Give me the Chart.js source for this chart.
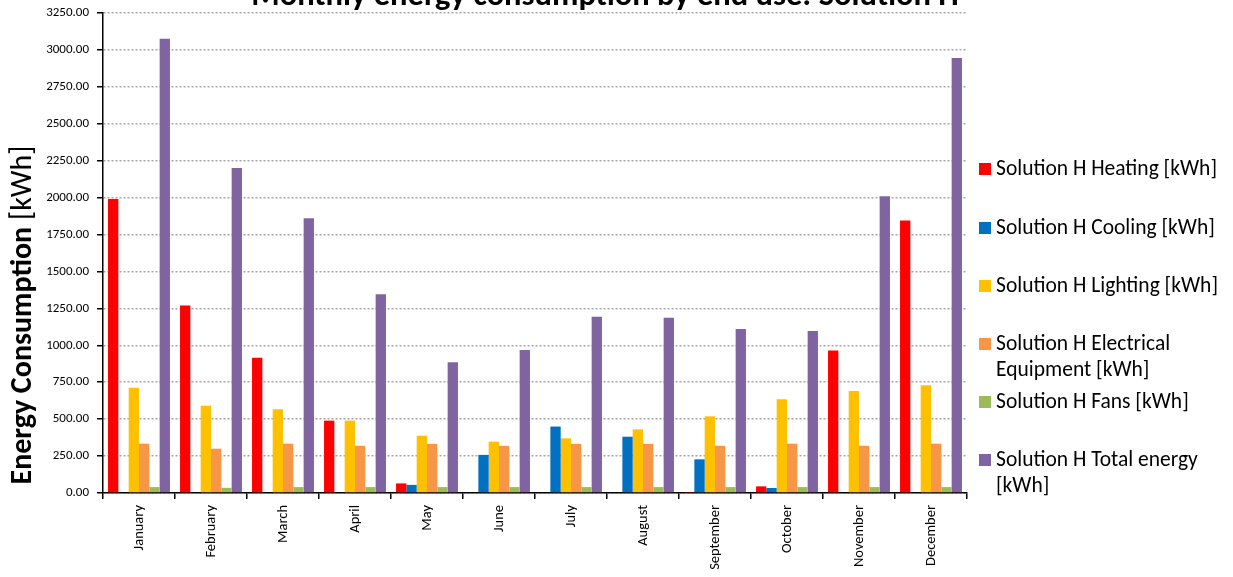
<!DOCTYPE html>
<html>
<head>
<meta charset="utf-8">
<title>Monthly energy consumption by end use: Solution H</title>
<script src="https://cdn.jsdelivr.net/npm/chart.js@4.4.1/dist/chart.umd.min.js"></script>
<style>
    html, body { margin: 0; padding: 0; background: #fff; }
    #wrap { width: 1233px; height: 577px; position: relative; }
</style>
</head>
<body>
<div id="wrap"><canvas id="energy-chart" width="1233" height="577"></canvas></div>
<script>
// Months on the x axis
const months = ['January', 'February', 'March', 'April', 'May', 'June',
    'July', 'August', 'September', 'October', 'November', 'December'];

// Monthly values per end use, kWh
const heating    = [1990, 1270, 915, 490, 65, 0, 0, 0, 3, 45, 965, 1845];
const cooling    = [0, 0, 0, 5, 55, 258, 450, 381, 228, 34, 0, 0];
const lighting   = [712, 590, 567, 490, 388, 348, 370, 431, 519, 634, 690, 730];
const electrical = [334, 300, 334, 320, 333, 320, 333, 333, 320, 334, 320, 334];
const fans       = [40, 35, 40, 40, 40, 40, 40, 40, 40, 40, 40, 40];
const total      = [3075, 2200, 1860, 1345, 885, 968, 1194, 1187, 1110, 1097, 2010, 2945];

// Y axis range
const yMin = 0;
const yMax = 3250;
const yStep = 250;

const seriesNames = [
    'Solution H Heating [kWh]',
    'Solution H Cooling [kWh]',
    'Solution H Lighting [kWh]',
    'Solution H Electrical Equipment [kWh]',
    'Solution H Fans [kWh]',
    'Solution H Total energy [kWh]'
];
const seriesColors = ['#ff0000', '#0070c0', '#ffc000', '#f79646', '#9bbb59', '#8064a2'];
const seriesValues = [heating, cooling, lighting, electrical, fans, total];

// legend text as it wraps in the picture
const legendLines = [
    ['Solution H Heating [kWh]'],
    ['Solution H Cooling [kWh]'],
    ['Solution H Lighting [kWh]'],
    ['Solution H Electrical', 'Equipment [kWh]'],
    ['Solution H Fans [kWh]'],
    ['Solution H Total energy', '[kWh]']
];

const FONT = "Carlito, Calibri, Lato, 'Open Sans', sans-serif";

// Title, y axis title and legend drawn by hand
const decorPlugin = {
    id: 'decor',
    afterDraw: function(chart) {
        const ctx = chart.ctx;
        ctx.save();

        // chart title (its top is cut off by the canvas edge)
        ctx.fillStyle = '#000';
        ctx.font = 'bold 32.5px ' + FONT;
        ctx.textAlign = 'center';
        ctx.textBaseline = 'alphabetic';
        ctx.fillText('Monthly energy consumption by end use: Solution H', 605, 5);

        // y axis title, bold part + normal part
        ctx.translate(31, 315);
        ctx.rotate(-Math.PI / 2);
        const boldPart = 'Energy Consumption ';
        const normalPart = '[kWh]';
        ctx.font = 'bold 30px ' + FONT;
        const w1 = ctx.measureText(boldPart).width;
        ctx.font = '30px ' + FONT;
        const w2 = ctx.measureText(normalPart).width;
        let x0 = -(w1 + w2) / 2;
        ctx.textAlign = 'left';
        ctx.font = 'bold 30px ' + FONT;
        ctx.fillText(boldPart, x0, 0);
        ctx.font = '30px ' + FONT;
        ctx.fillText(normalPart, x0 + w1, 0);
        ctx.restore();

        // legend
        ctx.save();
        ctx.font = '21.5px ' + FONT;
        ctx.textBaseline = 'middle';
        ctx.textAlign = 'left';
        const rowY = [169, 228, 286, 344, 402, 460];
        chart.data.datasets.forEach((ds, i) => {
            ctx.fillStyle = ds.backgroundColor;
            ctx.fillRect(979, rowY[i] - 6, 12, 12);
            ctx.fillStyle = '#000';
            legendLines[i].forEach((line, j) => {
                ctx.fillText(line, 996, rowY[i] + 1 + j * 26);
            });
        });
        ctx.restore();
    }
};

const ctx = document.getElementById('energy-chart');
new Chart(ctx, {
    type: 'bar',
    data: {
        labels: months,
        datasets: seriesNames.map((name, i) => ({
            label: name,
            data: seriesValues[i],
            backgroundColor: seriesColors[i],
            borderWidth: 0,
            barPercentage: 1.0,
            categoryPercentage: 0.86
        }))
    },
    options: {
        responsive: false,
        animation: false,
        layout: {
            padding: { top: 13, right: 266, bottom: 0, left: 0 }
        },
        plugins: {
            legend: { display: false },
            title: { display: false },
            tooltip: { enabled: false }
        },
        scales: {
            x: {
                afterFit: function(scale) { scale.height = 84; },
                grid: {
                    display: true,
                    drawOnChartArea: false,
                    drawTicks: true,
                    tickLength: 6,
                    color: '#000',
                    lineWidth: 1.5,
                    offset: true
                },
                border: { display: true, color: '#000', width: 1.5 },
                ticks: {
                    color: '#000',
                    font: { family: FONT, size: 14.5 },
                    minRotation: 90,
                    maxRotation: 90,
                    padding: 6,
                    autoSkip: false
                }
            },
            y: {
                min: yMin,
                max: yMax,
                afterFit: function(scale) {
                    scale.width = 103;
                    // let the top label hang into the padding
                    scale.paddingTop = 0;
                    scale.paddingBottom = 0;
                },
                grid: {
                    color: '#a6a6a6',
                    lineWidth: 1.5,
                    drawTicks: true,
                    tickLength: 6,
                    tickColor: '#000',
                    tickBorderDash: [],
                    tickWidth: 1.5
                },
                border: { display: true, color: '#000', width: 1.5, dash: [2, 2] },
                ticks: {
                    stepSize: yStep,
                    color: '#000',
                    font: { family: FONT, size: 13 },
                    padding: 8,
                    callback: function(v) { return Number(v).toFixed(2); }
                }
            }
        }
    },
    plugins: [decorPlugin]
});
</script>
</body>
</html>
